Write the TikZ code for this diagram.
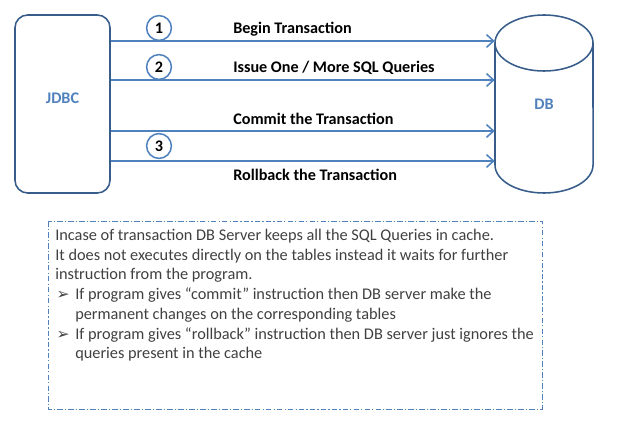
\documentclass[tikz,border=0pt]{standalone}
\usepackage{fontspec}
\setmainfont{Carlito}
\newfontfamily\symfont{DejaVu Sans}
\usepackage{tikz}
\usetikzlibrary{arrows.meta, positioning, fit}

\definecolor{lineblue}{HTML}{4F81BD}
\definecolor{edgeblue}{HTML}{385D8A}
\definecolor{notegray}{HTML}{404040}

\begin{document}
\begin{tikzpicture}[x=0.025cm, y=-0.025cm,
    flow/.style={draw=lineblue, line width=1.1pt, -{Straight Barb[length=5pt, width=9pt, line width=1.1pt]}},
    stepnum/.style={circle, draw=lineblue, line width=1.1pt, fill=white, minimum size=0.62cm, inner sep=0pt, font=\bfseries\fontsize{11.5}{13}\selectfont},
    msg/.style={anchor=west, inner sep=0pt, font=\bfseries\fontsize{11.5}{13}\selectfont},
    side/.style={inner sep=0pt, text=lineblue, font=\bfseries\fontsize{11.5}{13}\selectfont}]

\useasboundingbox (0,0) rectangle (617,431);

% JDBC box
\node[side, fit={(15,15) (110,193)}, draw=edgeblue, line width=1.1pt, rounded corners=9pt] (jdbc) {JDBC};

% DB cylinder
\node[side, fit={(495,15) (593,193)}] (db) {};
\draw[edgeblue, line width=1.1pt, fill=white]
    (495,43) -- (495,165) arc[start angle=180, end angle=360, x radius=1.225cm, y radius=0.7cm]
    -- (593,43);
\draw[edgeblue, line width=1.1pt, fill=white] (544,43) ellipse [x radius=1.225cm, y radius=0.7cm];
\node[side] (dblabel) at (db.center) {DB};

% Messages
\draw[flow] (jdbc.east |- 0,41) -- (db.west |- 0,41);
\draw[flow] (jdbc.east |- 0,80) -- (db.west |- 0,80);
\draw[flow] (jdbc.east |- 0,131) -- (db.west |- 0,131);
\draw[flow] (jdbc.east |- 0,161) -- (db.west |- 0,161);

% Step numbers
\node[stepnum] (c1) at (159,28) {1};
\node[stepnum] (c2) at (159,67) {2};
\node[stepnum] (c3) at (159,146) {3};

% Message labels
\node[msg] (m1) at (233,29) {Begin Transaction};
\node[msg] (m2) at (233,68) {Issue One / More SQL Queries};
\node[msg] (m3) at (233,119) {Commit the Transaction};
\node[msg] (m4) at (233,175) {Rollback the Transaction};

% Note box
\draw[lineblue, line width=0.7pt, dash pattern=on 4pt off 1.5pt on 0.8pt off 1.5pt] (48,221) rectangle (542,409);
\node[anchor=north west, inner sep=0pt, align=left, text=notegray,
      font=\fontsize{11.6}{14}\selectfont] (note) at (55,229)
  {Incase of transaction DB Server keeps all the SQL Queries in cache.\\
   It does not executes directly on the tables instead it waits for further\\
   instruction from the program.\\
   \makebox[14.2pt][l]{\hspace{1pt}\symfont\fontsize{11}{12}\selectfont ➢}If program gives “commit” instruction then DB server make the\\
   \hspace*{14.2pt}permanent changes on the corresponding tables\\
   \makebox[14.2pt][l]{\hspace{1pt}\symfont\fontsize{11}{12}\selectfont ➢}If program gives “rollback” instruction then DB server just ignores the\\
   \hspace*{14.2pt}queries present in the cache};

\end{tikzpicture}
\end{document}
